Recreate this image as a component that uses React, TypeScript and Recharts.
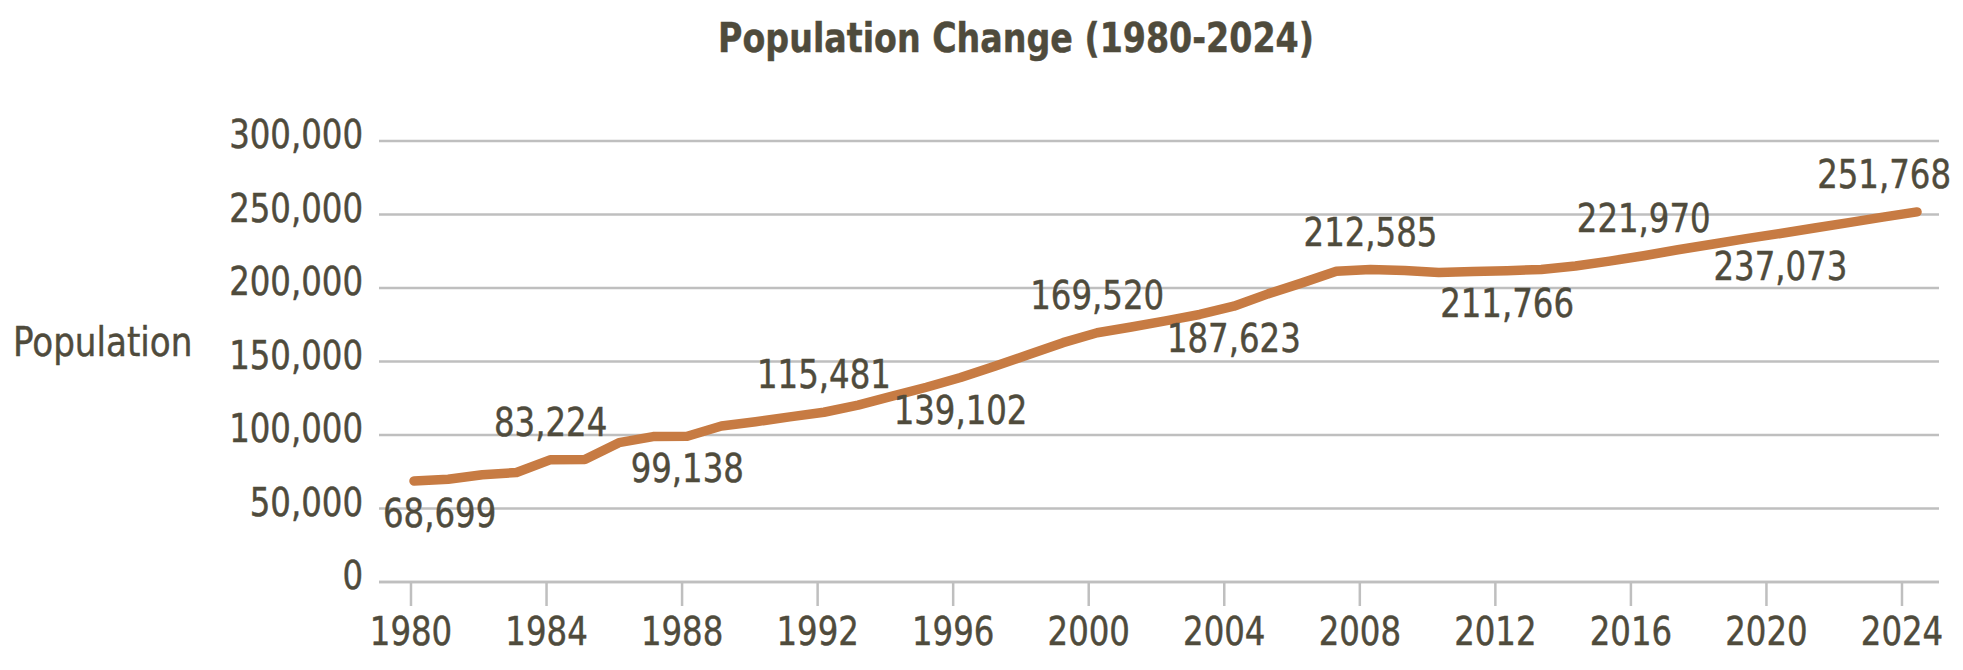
import { CartesianGrid, LabelList, Line, LineChart, XAxis, YAxis } from "recharts";

const years = [
  1980, 1981, 1982, 1983, 1984, 1985, 1986, 1987, 1988, 1989,
  1990, 1991, 1992, 1993, 1994, 1995, 1996, 1997, 1998, 1999,
  2000, 2001, 2002, 2003, 2004, 2005, 2006, 2007, 2008, 2009,
  2010, 2011, 2012, 2013, 2014, 2015, 2016, 2017, 2018, 2019,
  2020, 2021, 2022, 2023, 2024,
];

const population = [
  68699, 69900, 73000, 74500, 83224, 83400, 94800, 98900, 99138, 106100,
  109000, 112300, 115481, 120300, 126500, 132500, 139102, 146800, 154700, 162800,
  169520, 173500, 177600, 182000, 187623, 196000, 203500, 211400, 212585, 211900,
  210500, 211200, 211766, 212600, 215000, 218300, 221970, 226000, 229800, 233600,
  237073, 240800, 244500, 248200, 251768,
];

const yearTicks = [1980, 1984, 1988, 1992, 1996, 2000, 2004, 2008, 2012, 2016, 2020, 2024];
const popTicks = [0, 50000, 100000, 150000, 200000, 250000, 300000];

const rows = years.map((year, i) => ({ year, pop: population[i] }));

const FONT = "'DejaVu Sans Condensed', 'DejaVu Sans', sans-serif";
const INK = "#4f4b3c";
const GRID = "#bfbfbf";

const fmt = (v: number) => v.toLocaleString("en-US");

// the original face is a bit taller for its width than DejaVu Condensed
function Txt({ x, y, anchor = "middle", size = 36, bold = false, sy = 1.08, children }: any) {
  return (
    <text
      transform={`translate(${x},${y}) scale(1,${sy})`}
      textAnchor={anchor}
      fill={INK}
      stroke={INK}
      strokeWidth={0.4}
      fontSize={size}
      fontWeight={bold ? "bold" : "normal"}
      fontFamily={FONT}
      style={{ fontStretch: "condensed" }}
    >
      {children}
    </text>
  );
}

function XTick({ x, y, payload }: any) {
  return <Txt x={x} y={y + 39}>{payload.value}</Txt>;
}

function YTick({ x, y, payload }: any) {
  return (
    <Txt x={x} y={y + 7} anchor="end">
      {fmt(payload.value)}
    </Txt>
  );
}

function PointLabel(props: any) {
  const { x, y, value, index } = props;
  if (index % 4 !== 0) return null;
  const above = (index / 4) % 2 === 1;
  let anchor = "middle";
  let tx = x;
  // keep the end labels inside the plot, like the original
  if (index === 0) {
    anchor = "start";
    tx = x - 31;
  }
  if (index === years.length - 1) {
    anchor = "end";
    tx = x + 34;
  }
  return (
    <Txt x={tx} y={above ? y - 24 : y + 46} anchor={anchor}>
      {fmt(value)}
    </Txt>
  );
}

export default function App() {
  return (
    <div style={{ position: "absolute", left: 0, top: 0, width: 1963, height: 670, background: "#fff" }}>
      <LineChart width={1963} height={670} data={rows} margin={{ top: 141, right: 24, bottom: 0, left: 0 }}>
        <CartesianGrid vertical={false} stroke={GRID} strokeWidth={2.5} />
        <XAxis
          dataKey="year"
          type="number"
          domain={[1979.056, 2025.092]}
          ticks={yearTicks}
          height={88}
          tickSize={24}
          tickMargin={0}
          axisLine={{ stroke: GRID, strokeWidth: 2.5 }}
          tickLine={{ stroke: GRID, strokeWidth: 2.5 }}
          tick={<XTick />}
          interval={0}
        />
        <XAxis xAxisId="pts" dataKey="year" type="number" domain={[1978.975, 2024.644]} hide />
        <YAxis
          domain={[0, 300000]}
          ticks={popTicks}
          width={379}
          axisLine={false}
          tickLine={false}
          tickSize={0}
          tickMargin={16}
          tick={<YTick />}
          interval={0}
        />
        <Line
          xAxisId="pts"
          type="linear"
          dataKey="pop"
          stroke="#c77b43"
          strokeWidth={9.5}
          strokeLinecap="round"
          strokeLinejoin="round"
          dot={false}
          activeDot={false}
          isAnimationActive={false}
        >
          <LabelList dataKey="pop" content={<PointLabel />} />
        </Line>
      </LineChart>
      <svg width={1963} height={670} style={{ position: "absolute", left: 0, top: 0, pointerEvents: "none" }}>
        <Txt x={1016} y={52} size={37} bold sy={1.11}>
          Population Change (1980-2024)
        </Txt>
        <Txt x={13} y={356} anchor="start" size={38} sy={1.06}>
          Population
        </Txt>
      </svg>
    </div>
  );
}
